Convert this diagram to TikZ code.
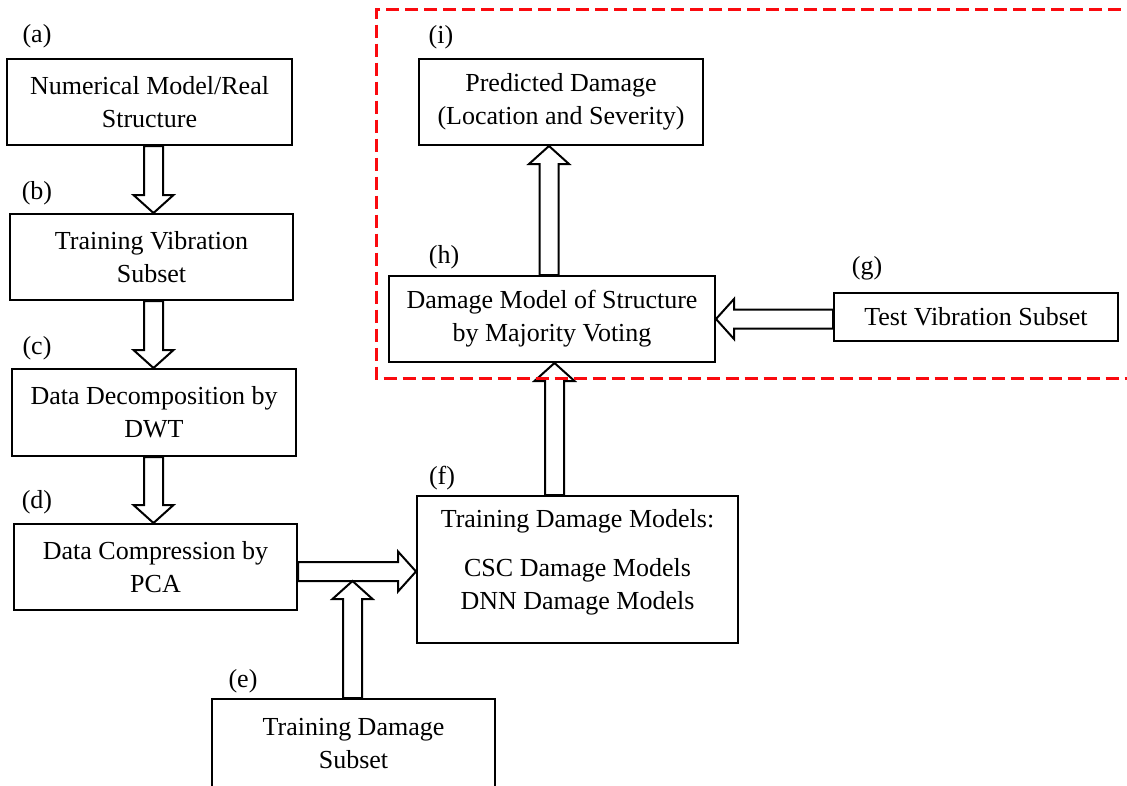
\documentclass[tikz,border=0pt]{standalone}
\usepackage{fontspec}
\setmainfont{Liberation Serif}
\usetikzlibrary{calc}

\definecolor{frame red}{RGB}{250,10,15}

% hollow block arrow from #1 (tail) to #2 (tip)
\newcommand\blockarrow[2]{%
  \coordinate (ba-s) at (#1);
  \coordinate (ba-t) at (#2);
  \coordinate (ba-h) at ($(ba-t)!18pt!(ba-s)$);
  \filldraw[arrowbody]
    ($(ba-s)!9.5pt!90:(ba-t)$) -- ($(ba-h)!9.5pt!-90:(ba-s)$) --
    ($(ba-h)!20pt!-90:(ba-s)$) -- (ba-t) --
    ($(ba-h)!20pt!90:(ba-s)$) -- ($(ba-h)!9.5pt!90:(ba-s)$) --
    ($(ba-s)!9.5pt!-90:(ba-t)$) -- cycle;
}

\begin{document}
\begin{tikzpicture}[x=1pt,y=-1pt,
  every node/.style={font=\fontsize{26}{33}\selectfont},
  box/.style={draw, line width=2pt, fill=white, inner sep=0pt, align=center},
  tag/.style={inner sep=0pt},
  arrowbody/.style={draw=black, fill=white, line width=2pt, line join=miter},
  frameline/.style={draw=frame red, line width=3pt, dash pattern=on 13pt off 6pt}]
\useasboundingbox (0,0) rectangle (1127,785);

% left column
\node[box, minimum width=285pt, minimum height=86pt] (a) at (149.5,102) {Numerical Model/Real\\Structure};
\node[box, minimum width=283pt, minimum height=86pt] (b) at (151.5,257) {Training Vibration\\Subset};
\node[box, minimum width=284pt, minimum height=87pt] (c) at (154,412.5) {Data Decomposition by\\DWT};
\node[box, minimum width=283pt, minimum height=86pt] (d) at (155.5,567) {Data Compression by\\PCA};
\node[box, minimum width=283pt, minimum height=90pt] (e) at (353.5,744) {Training Damage\\Subset};

% training and prediction
\node[box, minimum width=321pt, minimum height=147pt] (f) at (577.5,569.5)
  {\begin{tabular}{@{}c@{}}Training Damage Models:\\[16pt]CSC Damage Models\\DNN Damage Models\\[16pt]\end{tabular}};
\node[box, minimum width=284pt, minimum height=48pt] (g) at (976,317) {Test Vibration Subset};
\node[box, minimum width=326pt, minimum height=86pt] (h) at (552,319) {Damage Model of Structure\\by Majority Voting};
\node[box, minimum width=284pt, minimum height=86pt] (i) at (561,102) {Predicted Damage\\(Location and Severity)};

% step labels
\node[tag] (la) at (37,36) {(a)};
\node[tag] (lb) at (37,193) {(b)};
\node[tag] (lc) at (37,348) {(c)};
\node[tag] (ld) at (37,502) {(d)};
\node[tag] (le) at (243,681) {(e)};
\node[tag] (lf) at (442,478) {(f)};
\node[tag] (lg) at (867,268) {(g)};
\node[tag] (lh) at (444,257) {(h)};
\node[tag] (li) at (441,37) {(i)};

% arrow axes
\coordinate (col) at (153.5,0);
\coordinate (rowd) at (0,571.5);
\coordinate (join) at (352.5,581);
\coordinate (colfh) at (554.5,0);
\coordinate (colhi) at (549,0);
\coordinate (rowgh) at (0,319);

\blockarrow{a.south -| col}{b.north -| col}
\blockarrow{b.south -| col}{c.north -| col}
\blockarrow{c.south -| col}{d.north -| col}
\blockarrow{d.east |- rowd}{f.west |- rowd}
\blockarrow{e.north -| join}{join}
\blockarrow{f.north -| colfh}{h.south -| colfh}
\blockarrow{h.north -| colhi}{i.south -| colhi}
\blockarrow{g.west |- rowgh}{h.east |- rowgh}

% prediction stage frame
\draw[frameline] (1140,9.5) -- (376,9.5) -- (376,378) -- (1140,378);
\end{tikzpicture}
\end{document}
